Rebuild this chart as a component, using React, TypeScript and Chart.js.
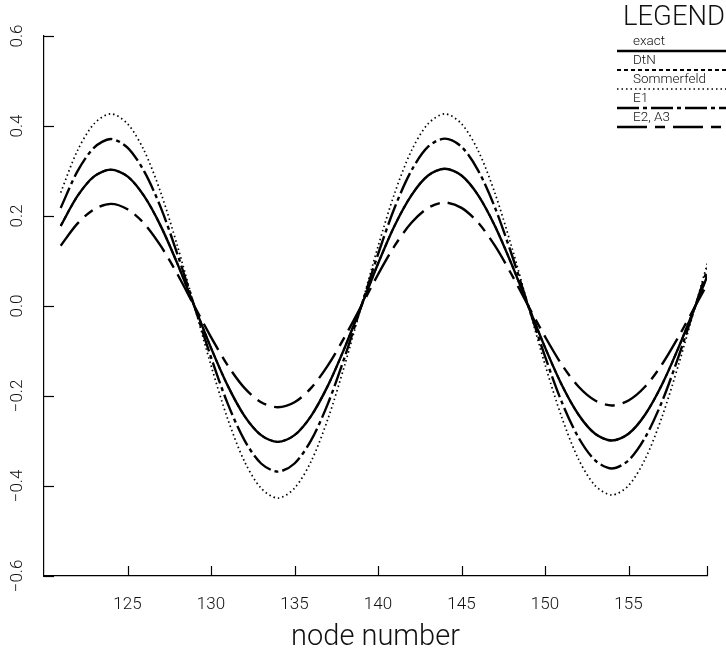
import React, { useEffect, useRef } from "react";
import { Chart, registerables } from "chart.js";

Chart.register(...registerables);

// ---- data ----
const NODES = [
  121, 122, 123, 124, 125, 126, 127, 128, 129, 130,
  131, 132, 133, 134, 135, 136, 137, 138, 139, 140,
  141, 142, 143, 144, 145, 146, 147, 148, 149, 150,
  151, 152, 153, 154, 155, 156, 157, 158, 159, 160,
];

const EXACT = [
  0.178, 0.244, 0.288, 0.303, 0.288, 0.244, 0.177, 0.093, 0.0, -0.093,
  -0.177, -0.244, -0.287, -0.302, -0.287, -0.244, -0.177, -0.093, 0.0, 0.094,
  0.179, 0.246, 0.290, 0.305, 0.290, 0.246, 0.178, 0.093, 0.0, -0.092,
  -0.175, -0.241, -0.284, -0.299, -0.284, -0.241, -0.175, -0.092, 0.0, 0.093,
];

const DTN = [
  0.178, 0.244, 0.288, 0.303, 0.288, 0.244, 0.177, 0.093, 0.0, -0.093,
  -0.177, -0.244, -0.287, -0.302, -0.287, -0.244, -0.177, -0.093, 0.0, 0.094,
  0.179, 0.246, 0.290, 0.305, 0.290, 0.246, 0.178, 0.093, 0.0, -0.092,
  -0.175, -0.241, -0.284, -0.299, -0.284, -0.241, -0.175, -0.092, 0.0, 0.093,
];

const SOMMERFELD = [
  0.252, 0.345, 0.405, 0.427, 0.405, 0.345, 0.251, 0.132, 0.0, -0.132,
  -0.251, -0.345, -0.405, -0.427, -0.405, -0.345, -0.251, -0.132, 0.0, 0.132,
  0.251, 0.345, 0.405, 0.427, 0.405, 0.345, 0.251, 0.132, 0.0, -0.130,
  -0.247, -0.340, -0.399, -0.420, -0.399, -0.340, -0.247, -0.130, 0.0, 0.131,
];

const E1 = [
  0.218, 0.299, 0.352, 0.371, 0.352, 0.299, 0.218, 0.114, 0.0, -0.114,
  -0.217, -0.298, -0.350, -0.368, -0.350, -0.298, -0.217, -0.114, 0.0, 0.115,
  0.219, 0.301, 0.354, 0.372, 0.354, 0.301, 0.219, 0.115, 0.0, -0.112,
  -0.213, -0.292, -0.343, -0.361, -0.343, -0.292, -0.213, -0.112, 0.0, 0.114,
];

const E2A3 = [
  0.134, 0.183, 0.215, 0.227, 0.215, 0.183, 0.133, 0.070, 0.0, -0.069,
  -0.132, -0.182, -0.214, -0.225, -0.214, -0.182, -0.132, -0.069, 0.0, 0.070,
  0.134, 0.185, 0.218, 0.230, 0.218, 0.185, 0.134, 0.070, 0.0, -0.068,
  -0.130, -0.179, -0.210, -0.221, -0.210, -0.179, -0.130, -0.068, 0.0, 0.068,
];

const SERIES_NAMES = ["exact", "DtN", "Sommerfeld", "E1", "E2, A3"];
const SERIES_VALUES = [EXACT, DTN, SOMMERFELD, E1, E2A3];

const X_MIN = 120;
const X_MAX = 159.7;
const X_TICKS = [125, 130, 135, 140, 145, 150, 155];
const Y_MIN = -0.6;
const Y_MAX = 0.6;
const Y_TICKS = [-0.6, -0.4, -0.2, 0.0, 0.2, 0.4, 0.6];
const Y_TICK_LABELS = ["\u22120.6", "\u22120.4", "\u22120.2", "0.0", "0.2", "0.4", "0.6"];
const X_TITLE = "node number";
const LEGEND_TITLE = "LEGEND";

// ---- styles ----
const FONT = "Roboto, 'Liberation Sans', sans-serif";
const LINE_STYLES = [
  { dash: [] as number[], width: 2.4 },
  { dash: [4, 3], width: 2 },
  { dash: [1.5, 3], width: 1.7 },
  { dash: [22, 4, 4, 4], width: 2.4 },
  { dash: [30, 8, 10, 8], width: 2.4 },
];

const decorPlugin = {
  id: "decor",
  afterDraw(chart: any) {
    const ctx: CanvasRenderingContext2D = chart.ctx;
    const { left, bottom } = chart.chartArea;
    const xs = chart.scales.x;
    const ys = chart.scales.y;
    ctx.save();
    ctx.strokeStyle = "#000";
    ctx.lineWidth = 1.2;
    ctx.setLineDash([]);
    // inward tick marks
    const xt = [...X_TICKS, xs.max];
    xt.forEach((v) => {
      const px = Math.round(xs.getPixelForValue(v)) + 0.5;
      ctx.beginPath();
      ctx.moveTo(px, bottom);
      ctx.lineTo(px, bottom - 10);
      ctx.stroke();
    });
    Y_TICKS.forEach((v) => {
      const py = Math.round(ys.getPixelForValue(v)) + 0.5;
      ctx.beginPath();
      ctx.moveTo(left, py);
      ctx.lineTo(left + 10, py);
      ctx.stroke();
    });
    // rotated y tick labels
    ctx.fillStyle = "#111";
    ctx.font = `300 17px ${FONT}`;
    ctx.textAlign = "center";
    ctx.textBaseline = "middle";
    Y_TICKS.forEach((v, i) => {
      const py = ys.getPixelForValue(v);
      ctx.save();
      ctx.translate(18, py);
      ctx.rotate(-Math.PI / 2);
      ctx.fillText(Y_TICK_LABELS[i], 0, 0);
      ctx.restore();
    });
    // legend
    ctx.textAlign = "left";
    ctx.font = `300 28px ${FONT}`;
    ctx.fillText(LEGEND_TITLE, 623, 18, 102);
    ctx.font = `300 13.5px ${FONT}`;
    const lx0 = 617;
    const lx1 = chart.width;
    SERIES_NAMES.forEach((name, i) => {
      const ty = 42 + i * 19;
      const ly = ty + 9;
      ctx.fillText(name, 633, ty);
      ctx.beginPath();
      ctx.lineWidth = LINE_STYLES[i].width;
      ctx.setLineDash(LINE_STYLES[i].dash);
      ctx.moveTo(lx0, ly);
      ctx.lineTo(lx1, ly);
      ctx.stroke();
    });
    ctx.restore();
  },
};

export default function App() {
  const ref = useRef<HTMLCanvasElement | null>(null);
  useEffect(() => {
    if (!ref.current) return;
    const datasets = SERIES_NAMES.map((name, i) => ({
      label: name,
      data: NODES.map((n, j) => ({ x: n, y: SERIES_VALUES[i][j] })),
      borderColor: "#000",
      backgroundColor: "#000",
      borderWidth: LINE_STYLES[i].width,
      borderDash: LINE_STYLES[i].dash,
      pointRadius: 0,
      tension: 0.3,
      fill: false,
    }));
    const chart = new Chart(ref.current, {
      type: "line",
      data: { datasets },
      options: {
        animation: false,
        responsive: false,
        maintainAspectRatio: false,
        layout: { padding: { top: 36, right: 7, left: 0, bottom: 0 } },
        plugins: { legend: { display: false }, tooltip: { enabled: false } },
        scales: {
          x: {
            type: "linear",
            min: X_MIN,
            max: X_MAX,
            afterFit: (s: any) => {
              s.height = 74;
            },
            grid: { display: true, drawOnChartArea: false, drawTicks: false },
            border: { display: true, color: "#000", width: 1.2 },
            ticks: {
              stepSize: 5,
              autoSkip: false,
              maxRotation: 0,
              padding: 19,
              color: "#111",
              font: { family: FONT, size: 17, weight: "300" },
              callback: (v: any) => (X_TICKS.includes(Number(v)) ? String(v) : ""),
            },
            title: {
              display: true,
              text: X_TITLE,
              color: "#111",
              font: { family: FONT, size: 29, weight: "300", lineHeight: 1 },
              padding: { top: 0, bottom: -2 },
            },
          },
          y: {
            type: "linear",
            min: Y_MIN,
            max: Y_MAX,
            afterFit: (s: any) => {
              s.width = 44;
            },
            grid: { display: true, drawOnChartArea: false, drawTicks: false },
            border: { display: true, color: "#000", width: 1.2 },
            ticks: { display: false, stepSize: 0.2 },
          },
        },
      },
      plugins: [decorPlugin],
    });
    return () => chart.destroy();
  }, []);
  return (
    <div style={{ position: "fixed", left: 0, top: 0, width: 726, height: 650, background: "#fff" }}>
      <canvas ref={ref} width={726} height={650} style={{ display: "block", width: 726, height: 650 }} />
    </div>
  );
}
